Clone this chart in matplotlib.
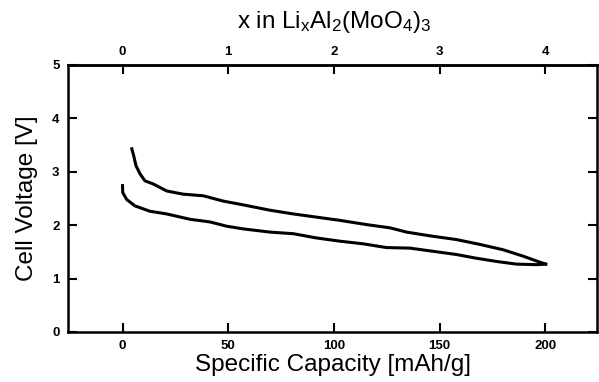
import matplotlib.pyplot as plt

plt.rcParams['font.family'] = 'Liberation Sans'
plt.rcParams['mathtext.fontset'] = 'custom'
plt.rcParams['mathtext.rm'] = 'Liberation Sans'

# discharge curve (lower)
discharge_cap = [0, 0.1, 2.0, 5.9, 13.0, 20.9, 31.9, 41.4, 49.3, 57.1, 69.7,
                 80.8, 91.8, 102.8, 113.9, 124.9, 135.9, 147.0, 158.0, 167.5,
                 177.0, 186.4, 195.8, 200.2]
discharge_v = [2.74, 2.61, 2.48, 2.36, 2.26, 2.21, 2.11, 2.06, 1.98, 1.93, 1.87,
               1.84, 1.76, 1.70, 1.65, 1.58, 1.57, 1.51, 1.45, 1.38,
               1.32, 1.27, 1.26, 1.27]

# charge curve (upper)
charge_cap = [200.2, 195.8, 189.5, 180.0, 169.0, 158.0, 145.4, 134.4, 126.5,
              115.5, 102.8, 91.8, 80.8, 69.7, 57.1, 47.7, 38.2, 28.7, 20.9,
              14.6, 10.6, 8.3, 6.4, 5.1, 4.4]
charge_v = [1.27, 1.33, 1.42, 1.54, 1.64, 1.73, 1.80, 1.87, 1.95,
            2.01, 2.09, 2.15, 2.21, 2.28, 2.38, 2.45, 2.55, 2.58, 2.64,
            2.77, 2.83, 2.96, 3.11, 3.33, 3.43]

x_ticks = [0, 50, 100, 150, 200]
x_top_ticks = [0, 1, 2, 3, 4]
y_ticks = [0, 1, 2, 3, 4, 5]
cap_per_li = 50  # mAh/g per Li

fig = plt.figure(figsize=(5.99, 3.82), dpi=100)
ax = fig.add_axes([0.1135, 0.131, 0.8832, 0.699])

ax.plot(discharge_cap, discharge_v, color='black', lw=2.2)
ax.plot(charge_cap, charge_v, color='black', lw=2.2)

ax.set_xlim(-25.8, 224.5)
ax.set_ylim(0, 5)
ax.set_xticks(x_ticks)
ax.set_yticks(y_ticks)

for s in ax.spines.values():
    s.set_linewidth(1.8)

ax.tick_params(direction='in', length=6.5, width=1.5, labelsize=9.5,
               right=True, pad=6)
ax.set_yticklabels([str(v) for v in y_ticks], fontweight='bold')
ax.set_xticklabels([str(v) for v in x_ticks], fontweight='bold')

top = ax.secondary_xaxis('top', functions=(lambda c: c / cap_per_li,
                                           lambda x: x * cap_per_li))
top.set_xticks(x_top_ticks)
top.set_xticklabels([str(v) for v in x_top_ticks], fontweight='bold')
top.tick_params(direction='in', length=6.5, width=1.5, labelsize=9.5, pad=5)
top.spines['top'].set_linewidth(1.8)

# titel boven de grafiek, los geplaatst zodat hij niet over de ticks valt
fig.text(334 / 599, 1 - 22 / 382,
         r'x in Li$\mathregular{_x}$Al$\mathregular{_2}$(MoO$\mathregular{_4}$)$\mathregular{_3}$',
         fontsize=17.5, ha='center', va='center')

ax.set_xlabel('Specific Capacity [mAh/g]', fontsize=17.5, labelpad=1)
ax.set_ylabel('Cell Voltage [V]', fontsize=17.5, labelpad=10)

fig.savefig('out.png', dpi=100)
